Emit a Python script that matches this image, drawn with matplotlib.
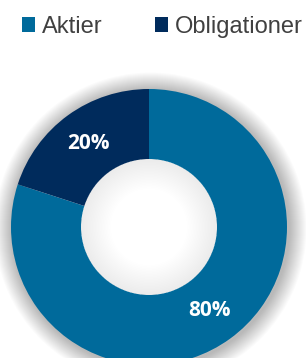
import matplotlib.pyplot as plt
from matplotlib.patches import Wedge, Patch
import numpy as np

# Data
labels = ["Aktier", "Obligationer"]
values = [80, 20]
colors = ["#006A9B", "#002B5C"]

W, H = 306, 358
fig = plt.figure(figsize=(W / 100, H / 100), dpi=100)
ax = fig.add_axes([0, 0, 1, 1])

cx, cy = 149, 131      # donut centre in pixel coords (y up)
r_out, r_in = 138, 68

# soft shadow outside the ring
for d in np.linspace(1, 18, 18):
    ax.add_patch(Wedge((cx + 1.5, cy - 1.5), r_out + d, 0, 360, width=2.2 * d,
                       facecolor="black", alpha=0.016, lw=0, zorder=0))

ax.pie(values, colors=colors, startangle=90, counterclock=False,
       radius=r_out, center=(cx, cy),
       wedgeprops=dict(width=r_out - r_in, edgecolor="none"),
       autopct=lambda p: f"{p:.0f}%", pctdistance=(r_out + r_in) / 2 / r_out,
       textprops=dict(color="white", fontsize=15, fontweight="bold",
                      family="Open Sans"))

# soft shadow falling into the hole
for d in np.linspace(1, 30, 20):
    ax.add_patch(Wedge((cx, cy), r_in, 0, 360, width=d,
                       facecolor="black", alpha=0.0035, lw=0, zorder=5))

ax.set_xlim(0, W)
ax.set_ylim(0, H)
ax.set_aspect("equal")
ax.axis("off")

handles = [Patch(facecolor=c, edgecolor="none") for c in colors]
fig.legend(handles, labels, loc="center", bbox_to_anchor=(0.53, 0.925),
           ncol=2, frameon=False, handlelength=0.55,
           handleheight=0.55, handletextpad=0.3, columnspacing=2.2,
           prop=dict(family="Liberation Sans", size=17),
           labelcolor="#404040")

fig.savefig("out.png", dpi=100)
